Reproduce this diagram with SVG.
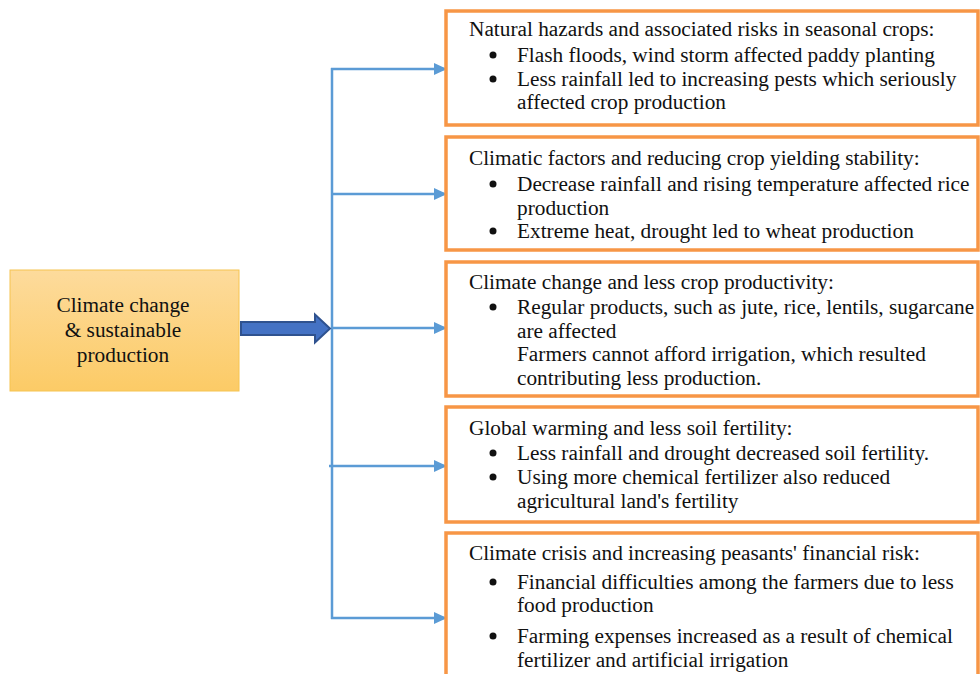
<svg xmlns="http://www.w3.org/2000/svg" width="980" height="674" viewBox="0 0 980 674">
<style>
.t{font-size:21.3px;fill:#111}
.box{fill:#fff;stroke:#f79646;stroke-width:3.5}
.con{stroke:#5b9bd5;stroke-width:2.5;fill:none}
.b{fill:#111}
</style>
<defs>
<linearGradient id="g" x1="0" y1="0" x2="0" y2="1">
<stop offset="0" stop-color="#fddb9c"/>
<stop offset="1" stop-color="#fccb66"/>
</linearGradient>
<marker id="ah" markerWidth="13" markerHeight="12" refX="12" refY="6" orient="auto" markerUnits="userSpaceOnUse" viewBox="0 0 13 12">
<path d="M0,0 L13,6 L0,12 z" fill="#5b9bd5"/>
</marker>
</defs>
<g id="connectors">
<line class="con" x1="332" y1="68" x2="332" y2="619"/>
<line class="con" x1="331" y1="69" x2="446" y2="69" marker-end="url(#ah)"/>
<line class="con" x1="331" y1="194" x2="446" y2="194" marker-end="url(#ah)"/>
<line class="con" x1="331" y1="328" x2="446" y2="328" marker-end="url(#ah)"/>
<line class="con" x1="329" y1="466" x2="446" y2="466" marker-end="url(#ah)"/>
<line class="con" x1="331" y1="618" x2="446" y2="618" marker-end="url(#ah)"/>
<path d="M241,322 L315,322 L315,314.5 L330,328.5 L315,342.5 L315,335 L241,335 z" fill="#4472c4" stroke="#2f528f" stroke-width="2"/>
</g>
<g font-family="Liberation Serif, serif" class="t">
<g id="source">
<rect x="10" y="270" width="229" height="121" fill="url(#g)" stroke="#f6c451" stroke-width="1"/>
<text x="123" y="312" text-anchor="middle">Climate change</text>
<text x="123" y="337" text-anchor="middle">&amp; sustainable</text>
<text x="123" y="362" text-anchor="middle">production</text>
</g>
<g id="box1">
<rect class="box" x="446" y="11" width="532" height="114"/>
<text x="469" y="36">Natural hazards and associated risks in seasonal crops:</text>
<circle class="b" cx="493" cy="55" r="3.5"/>
<text x="517" y="62">Flash floods, wind storm affected paddy planting</text>
<circle class="b" cx="493" cy="79" r="3.5"/>
<text x="517" y="86">Less rainfall led to increasing pests which seriously</text>
<text x="517" y="109">affected crop production</text>
</g>
<g id="box2">
<rect class="box" x="446" y="137" width="532" height="113"/>
<text x="469" y="165">Climatic factors and reducing crop yielding stability:</text>
<circle class="b" cx="493" cy="184" r="3.5"/>
<text x="517" y="191">Decrease rainfall and rising temperature affected rice</text>
<text x="517" y="215">production</text>
<circle class="b" cx="493" cy="231" r="3.5"/>
<text x="517" y="238">Extreme heat, drought led to wheat production</text>
</g>
<g id="box3">
<rect class="box" x="446" y="262" width="532" height="134"/>
<text x="469" y="289">Climate change and less crop productivity:</text>
<circle class="b" cx="493" cy="307" r="3.5"/>
<text x="517" y="314">Regular products, such as jute, rice, lentils, sugarcane</text>
<text x="517" y="338">are affected</text>
<text x="517" y="361">Farmers cannot afford irrigation, which resulted</text>
<text x="517" y="385">contributing less production.</text>
</g>
<g id="box4">
<rect class="box" x="446" y="407" width="532" height="115"/>
<text x="469" y="435">Global warming and less soil fertility:</text>
<circle class="b" cx="493" cy="453" r="3.5"/>
<text x="517" y="460">Less rainfall and drought decreased soil fertility.</text>
<circle class="b" cx="493" cy="477" r="3.5"/>
<text x="517" y="484">Using more chemical fertilizer also reduced</text>
<text x="517" y="508">agricultural land's fertility</text>
</g>
<g id="box5">
<rect class="box" x="446" y="533" width="532" height="160"/>
<text x="469" y="560">Climate crisis and increasing peasants' financial risk:</text>
<circle class="b" cx="493" cy="582" r="3.5"/>
<text x="517" y="589">Financial difficulties among the farmers due to less</text>
<text x="517" y="612">food production</text>
<circle class="b" cx="493" cy="636" r="3.5"/>
<text x="517" y="643">Farming expenses increased as a result of chemical</text>
<text x="517" y="667">fertilizer and artificial irrigation</text>
</g>
</g>
</svg>
